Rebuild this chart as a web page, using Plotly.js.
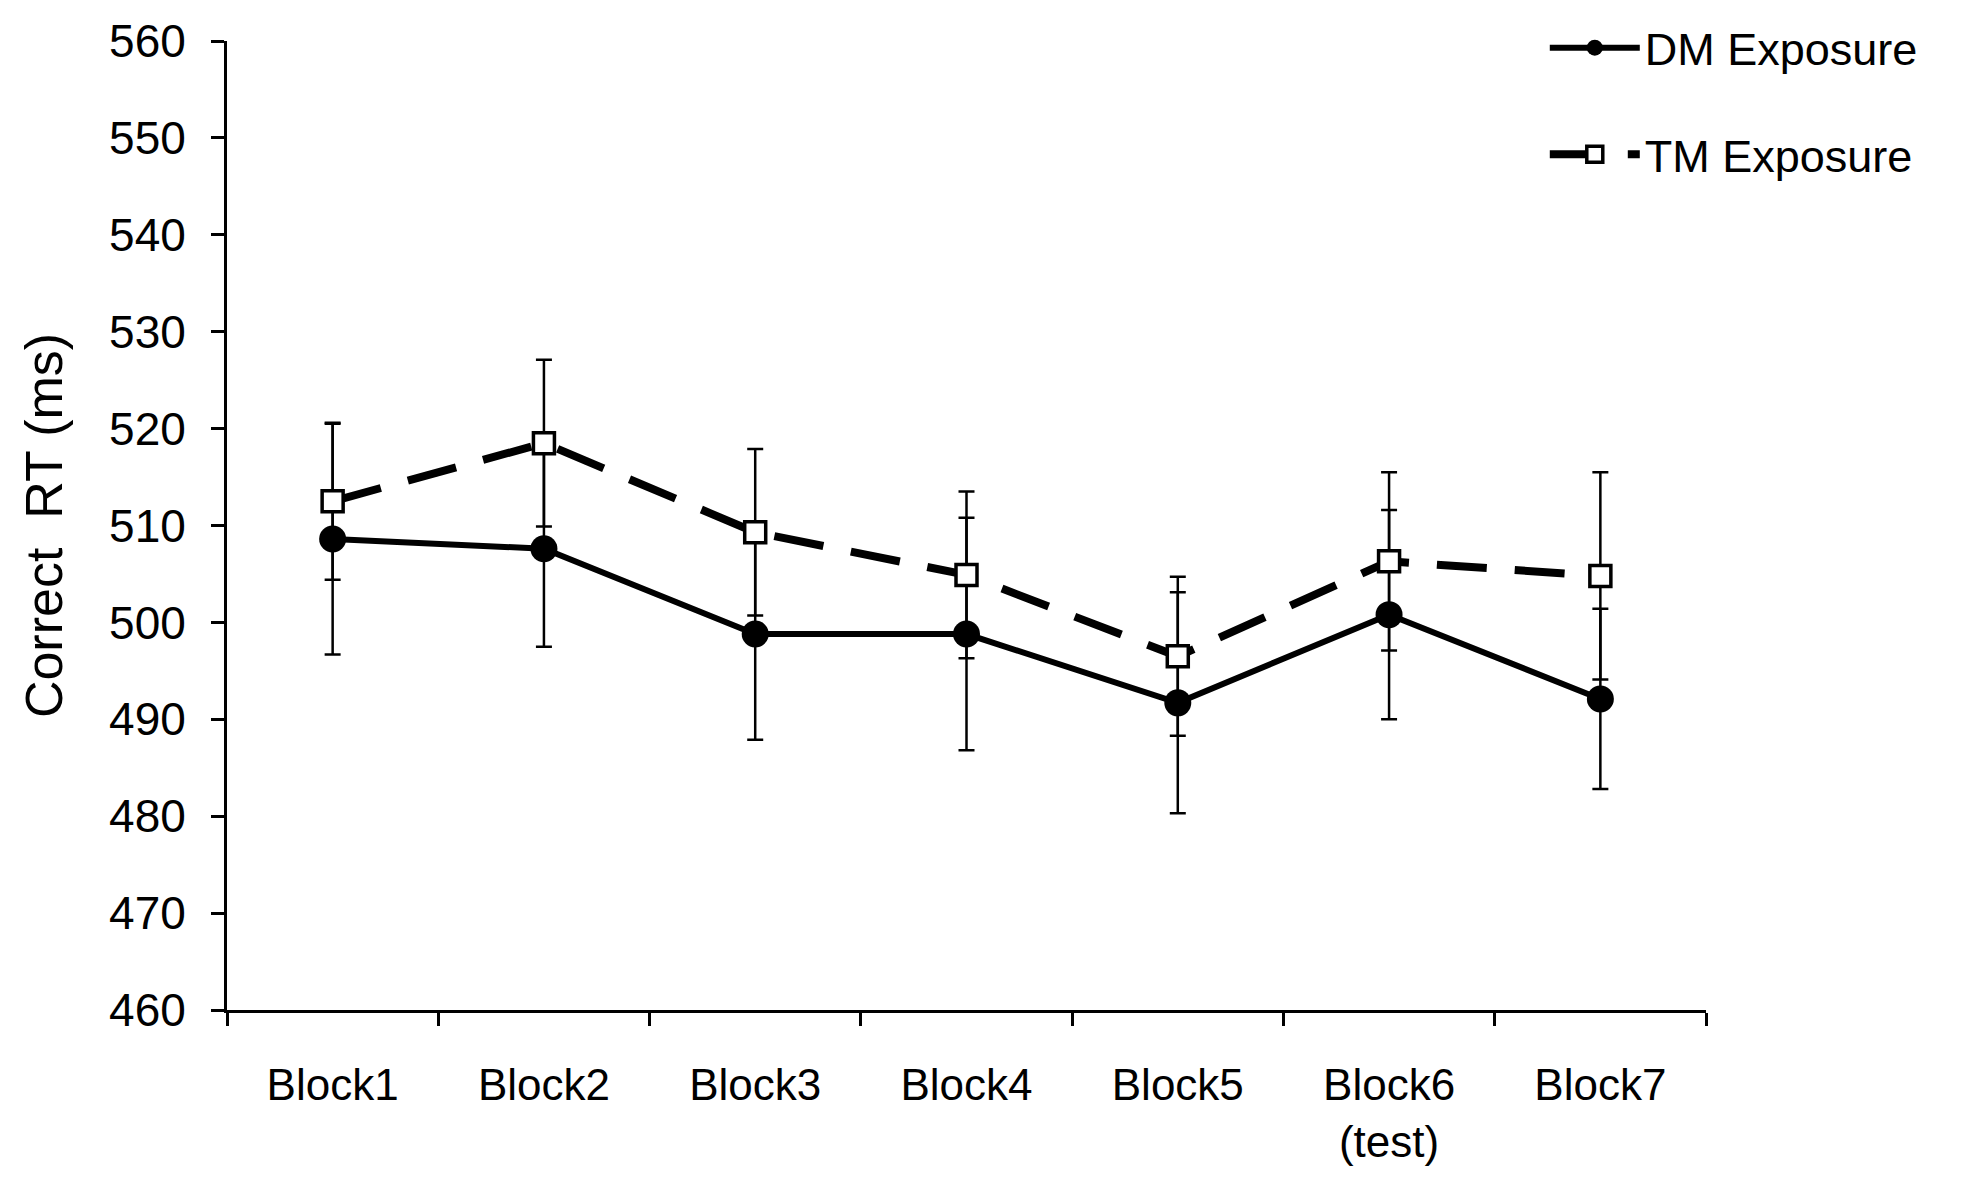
<!DOCTYPE html>
<html>
<head>
<meta charset="utf-8">
<script src="https://cdn.plot.ly/plotly-3.0.1.min.js"></script>
<style>
  html, body { margin: 0; padding: 0; background: #ffffff; }
  #chart { width: 1961px; height: 1198px; }
</style>
</head>
<body>
<div id="chart"></div>
<script>
// ---- data ----
var blocks = ["Block1", "Block2", "Block3", "Block4", "Block5", "Block6<br>(test)", "Block7"];
var dmMean = [508.6, 507.6, 498.8, 498.8, 491.7, 500.8, 492.1];
var dmErr  = [11.9, 10.1, 10.9, 12.0, 11.4, 10.8, 9.3];
var tmMean = [512.5, 518.5, 509.3, 504.9, 496.5, 506.3, 504.8];
var tmErr  = [8.1, 8.6, 8.6, 8.6, 8.2, 9.2, 10.7];
var yTicks = [460, 470, 480, 490, 500, 510, 520, 530, 540, 550, 560];
var yTitle = "Correct\u00a0\u00a0RT (ms)";

var FONT = "Liberation Sans, Arial, Helvetica, sans-serif";

var dm = {
  type: "scatter", mode: "lines+markers", name: "DM Exposure",
  x: blocks, y: dmMean,
  legendgroup: "dm",
  line: { color: "#000000", width: 6 },
  marker: { symbol: "circle", size: 27, color: "#000000", line: { color: "#000000", width: 0 } },
  error_y: { type: "data", array: dmErr, visible: true, color: "#000000", thickness: 2.5, width: 8 }
};

var tm = {
  type: "scatter", mode: "lines+markers", name: "TM Exposure",
  x: blocks, y: tmMean,
  legendgroup: "tm",
  line: { color: "#000000", width: 8, dash: "50px,28px" },
  marker: { symbol: "square", size: 21, color: "#ffffff", line: { color: "#000000", width: 3.5 } },
  error_y: { type: "data", array: tmErr, visible: true, color: "#000000", thickness: 2.5, width: 8 }
};

var layout = {
  width: 1961, height: 1198,
  paper_bgcolor: "#ffffff", plot_bgcolor: "#ffffff",
  margin: { l: 227, r: 255, t: 32, b: 188, pad: 0 },
  font: { family: FONT, color: "#000000", size: 45 },
  showlegend: true,
  legend: {
    x: 0.891, y: 1.03, xanchor: "left", yanchor: "top",
    font: { family: FONT, size: 45, color: "#000000" },
    bgcolor: "rgba(0,0,0,0)", borderwidth: 0,
    tracegroupgap: 45, itemwidth: 90
  },
  xaxis: {
    type: "category",
    range: [-0.5, 6.5],
    showline: true, linecolor: "#000000", linewidth: 3,
    ticks: "outside", tickson: "boundaries", ticklen: 13, tickwidth: 3, tickcolor: "#000000",
    showgrid: false, zeroline: false,
    tickfont: { family: FONT, size: 44, color: "#000000" },
    ticklabelstandoff: 34
  },
  yaxis: {
    range: [460, 560],
    tickvals: yTicks,
    ticktext: yTicks.map(String),
    showline: true, linecolor: "#000000", linewidth: 3,
    ticks: "outside", ticklen: 13, tickwidth: 3, tickcolor: "#000000",
    showgrid: false, zeroline: false,
    tickfont: { family: FONT, size: 46, color: "#000000" },
    ticklabelstandoff: 16,
    title: { text: yTitle, font: { family: FONT, size: 52, color: "#000000" }, standoff: 30 }
  }
};

Plotly.newPlot("chart", [dm, tm], layout, { displayModeBar: false, staticPlot: true });
</script>
</body>
</html>
